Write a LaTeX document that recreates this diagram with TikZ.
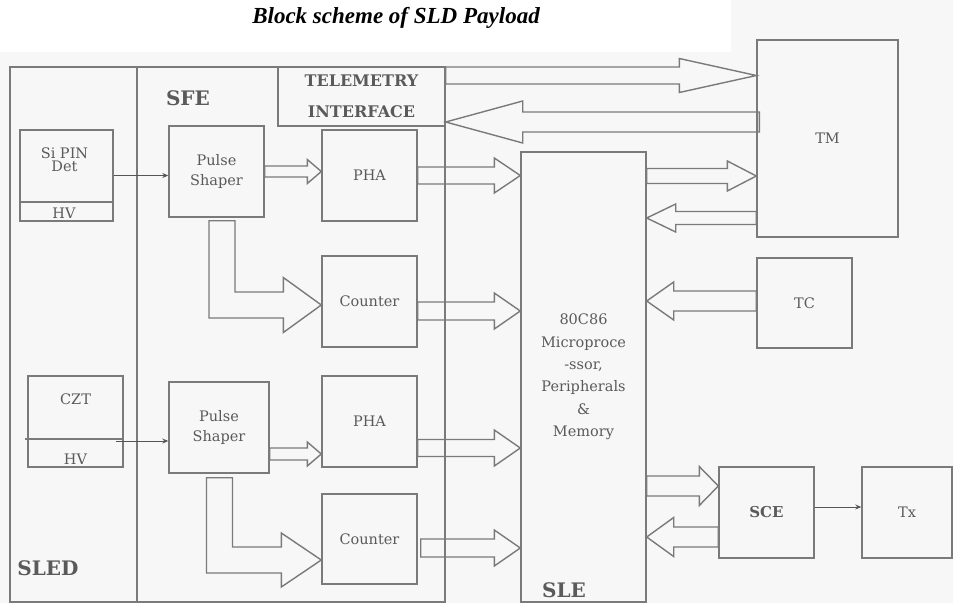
\documentclass[tikz,border=0pt]{standalone}
\usepackage{fontspec}
\setmainfont{DejaVu Serif}
\newfontfamily\titlefont{Liberation Serif}
\usetikzlibrary{arrows.meta, calc}
\definecolor{cline}{HTML}{7A7A7A}
\definecolor{ctext}{HTML}{5A5A5A}
\definecolor{cback}{HTML}{F7F7F7}
\tikzset{
  every picture/.style={line width=1.4pt},
  box/.style={draw=cline, minimum width=95, minimum height=91, inner sep=0pt, align=center, text=ctext, font=\fontsize{14.5}{20}\selectfont},
  wrap/.style={draw=cline, inner sep=0pt},
  fat/.style={draw=cline, line join=miter},
  sig/.style={-{Stealth[length=6pt, width=5pt]}, draw=cline!70!black, line width=0.9pt},
  tag/.style={font=\fontsize{20}{20}\selectfont\bfseries, text=ctext},
  txt/.style={text=ctext, font=\fontsize{14.5}{13}\selectfont, align=center},
}
\newcommand{\fatarrow}[5]{%
  \draw[fat] let \p1=(#1), \p2=(#2), \n1={(\x2-\x1)/abs(\x2-\x1)} in
    (\x1,{\y1+#3pt}) -- ({\x2-\n1*#5pt},{\y1+#3pt}) -- ({\x2-\n1*#5pt},{\y1+#4pt})
    -- (\x2,\y1) -- ({\x2-\n1*#5pt},{\y1-#4pt}) -- ({\x2-\n1*#5pt},{\y1-#3pt})
    -- (\x1,{\y1-#3pt}) -- cycle;}
\newcommand{\elbowarrow}[5]{%
  \draw[fat] let \p1=(#1), \p2=(#2) in
    ({\x1-#3pt},\y1) -- ({\x1-#3pt},{\y2-#3pt}) -- ({\x2-#5pt},{\y2-#3pt}) -- ({\x2-#5pt},{\y2-#4pt})
    -- (\x2,\y2) -- ({\x2-#5pt},{\y2+#4pt}) -- ({\x2-#5pt},{\y2+#3pt}) -- ({\x1+#3pt},{\y2+#3pt})
    -- ({\x1+#3pt},\y1) -- cycle;}

\begin{document}
\begin{tikzpicture}[x=1pt, y=-1pt]
  \fill[cback] (0,0) rectangle (953,603);
  \fill[white] (0,0) rectangle (731,52);
  \useasboundingbox (0,0) rectangle (953,603);
  \node[font=\titlefont\bfseries\itshape\fontsize{23}{23}\selectfont] (title) at (396,18) {Block scheme of SLD Payload};

  \node[wrap, minimum width=127, minimum height=535] (sled) at (73.5,334.5) {};
  \node[wrap, minimum width=308, minimum height=535] (sfe) at (291,334.5) {};
  \node[box, minimum width=167, minimum height=59, font=\fontsize{16}{31}\selectfont\bfseries] (tele) at (361.5,96.5) {TELEMETRY\\INTERFACE};
  \node[tag] (sfelbl) at (188,98) {SFE};
  \node[tag] (sledlbl) at (48,568) {SLED};

  \node[box, minimum width=93] (sipin) at (66.5,175.5) {};
  \node[box] (ps1) at (216.5,171.5) {Pulse\\Shaper};
  \node[box] (pha1) at (369.5,175.5) {PHA};
  \node[box] (cnt1) at (369.5,301.5) {Counter};
  \node[box] (czt) at (75.5,421.5) {};
  \node[box, minimum width=100] (ps2) at (219,427.5) {Pulse\\Shaper};
  \node[box] (pha2) at (369.5,421.5) {PHA};
  \node[box, minimum height=90] (cnt2) at (369.5,539) {Counter};
  \node[box, minimum width=125, minimum height=450, font=\fontsize{14.5}{22.4}\selectfont] (sle) at (583.5,377) {80C86\\Microproce\\-ssor,\\Peripherals\\\&\\Memory};
  \node[tag] (slelbl) at (564,590) {SLE};
  \node[box, minimum width=141, minimum height=197] (tm) at (827.5,138.5) {TM};
  \node[box, minimum height=90] (tc) at (804.5,303) {TC};
  \node[box, font=\fontsize{15}{15}\selectfont\bfseries] (sce) at (766.5,512.5) {SCE};
  \node[box, minimum width=90] (tx) at (907,512.5) {Tx};

  \node[txt] (sipindet) at (64.5,159.5) {Si PIN\\Det};
  \node[txt] (sipinhv) at (64,213) {HV};
  \node[txt] (cztname) at (75.5,399) {CZT};
  \node[txt] (czthv) at (75.5,459) {HV};
  \draw[cline] ([yshift=-26.5pt]sipin.west) -- ++(95,0);
  \draw[cline] ([xshift=-2pt,yshift=-17.5pt]czt.west) -- ++(97,0);

  \draw[sig] (sipin.east) -- (sipin.east -| ps1.west);
  \coordinate (cztout) at ([xshift=-8pt,yshift=-19.5pt]czt.east);
  \draw[sig] (cztout) -- (cztout -| ps2.west);
  \coordinate (sceout) at ([yshift=5.5pt]sce.east);
  \draw[sig] (sceout) -- (sceout -| tx.west);

  \fatarrow{[yshift=21pt]tele.east}{tm.west}{8.5}{17}{77}
  \fatarrow{[xshift=3pt,yshift=16.5pt]tm.west}{tele.east}{10}{21}{77}
  \fatarrow{ps1.east}{pha1.west}{5.5}{12}{14}
  \fatarrow{[yshift=-26.5pt]ps2.east}{pha2.west}{6}{12}{14}
  \fatarrow{pha1.east}{sle.west}{8.5}{17.5}{26}
  \fatarrow{[yshift=-9.5pt]cnt1.east}{sle.west}{9}{18}{26}
  \fatarrow{[yshift=-26.5pt]pha2.east}{sle.west}{8.5}{18}{26}
  \fatarrow{[xshift=3pt,yshift=-9pt]cnt2.east}{sle.west}{9}{18}{26}
  \fatarrow{[yshift=201pt]sle.east}{tm.west}{7.5}{15}{29}
  \fatarrow{[yshift=-79.5pt]tm.west}{sle.east}{6.5}{14}{29}
  \fatarrow{[yshift=2pt]tc.west}{sle.east}{10}{19}{27}
  \fatarrow{[yshift=-109pt]sle.east}{sce.west}{10}{19.5}{19}
  \fatarrow{[yshift=-24.5pt]sce.west}{sle.east}{10}{19.5}{27}
  \elbowarrow{[xshift=5.5pt,yshift=-3pt]ps1.south}{[yshift=-3.5pt]cnt1.west}{13}{27.5}{38}
  \elbowarrow{[xshift=0.5pt,yshift=-4pt]ps2.south}{[yshift=-21pt]cnt2.west}{13}{27}{40}
\end{tikzpicture}
\end{document}
